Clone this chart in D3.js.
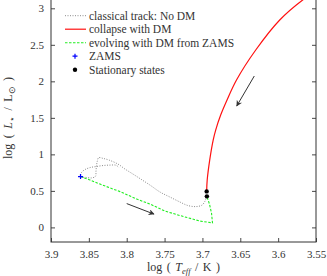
<!DOCTYPE html>
<html>
<head>
<meta charset="utf-8">
<script src="https://cdn.jsdelivr.net/npm/d3@7"></script>
<style>
  body { margin: 0; background: #fff; }
  svg text { font-family: "Liberation Serif", serif; fill: #333; }
</style>
</head>
<body>
<div id="chart"></div>
<script>
var svgWidth = 327;
var svgHeight = 276;

// data: [log Teff, log L]
var classicalTrack = [
  [3.6946, 0.429], [3.6966, 0.360], [3.7006, 0.305], [3.7085, 0.285], [3.7191, 0.299],
  [3.7296, 0.347], [3.7428, 0.415], [3.7560, 0.484], [3.7692, 0.579], [3.7824, 0.668],
  [3.7917, 0.730], [3.8023, 0.799], [3.8115, 0.867], [3.8234, 0.922], [3.8313, 0.945],
  [3.8370, 0.955], [3.8390, 0.900], [3.8400, 0.840], [3.8406, 0.764], [3.8412, 0.700],
  [3.8458, 0.678], [3.8538, 0.684], [3.8610, 0.696],
  [3.8597, 0.751], [3.8551, 0.792], [3.8485, 0.819], [3.8406, 0.833], [3.8313, 0.847],
  [3.8221, 0.853], [3.8141, 0.851], [3.8102, 0.819]
];
var collapseDM = [
  [3.6944, 0.498], [3.6937, 0.648], [3.6904, 0.922], [3.6858, 1.196], [3.6825, 1.333],
  [3.6759, 1.538], [3.6675, 1.744], [3.6550, 2.018], [3.6296, 2.429], [3.5979, 2.840],
  [3.5676, 3.114], [3.5557, 3.196]
];
var evolvingDM = [
  [3.8610, 0.696], [3.8485, 0.648], [3.8353, 0.593], [3.8221, 0.541], [3.8089, 0.490],
  [3.7868, 0.388], [3.7692, 0.319], [3.7494, 0.223], [3.7296, 0.162], [3.7032, 0.086],
  [3.6867, 0.062], [3.6880, 0.196], [3.6907, 0.319], [3.6941, 0.425]
];
var zams = [[3.861, 0.696]];
var stationary = [[3.6944, 0.493], [3.6941, 0.425]];
var arrows = [
  [[3.6315, 2.073], [3.6547, 1.662]],
  [[3.8000, 0.326], [3.7640, 0.182]]
];

var xTicks = [3.9, 3.85, 3.8, 3.75, 3.7, 3.65, 3.6, 3.55];
var yTicks = [0, 0.5, 1, 1.5, 2, 2.5, 3];

var legendLabels = [
  "classical track: No DM",
  "collapse with DM",
  "evolving with DM from ZAMS",
  "ZAMS",
  "Stationary states"
];

var plotLeft = 51, plotRight = 316, plotBottom = 242, plotTop = -6.3;

var x = d3.scaleLinear().domain([3.9, 3.55]).range([plotLeft, plotRight]);
var y = d3.scaleLinear().domain([-0.2, 3.2]).range([plotBottom, plotTop]);

var svg = d3.select("#chart").append("svg")
  .attr("width", svgWidth)
  .attr("height", svgHeight);

var defs = svg.append("defs");
defs.append("clipPath").attr("id", "clip")
  .append("rect")
  .attr("x", plotLeft).attr("y", plotTop)
  .attr("width", plotRight - plotLeft).attr("height", plotBottom - plotTop);

defs.append("marker")
  .attr("id", "head")
  .attr("viewBox", "0 0 10 10")
  .attr("refX", 9).attr("refY", 5)
  .attr("markerWidth", 10).attr("markerHeight", 6)
  .attr("markerUnits", "userSpaceOnUse")
  .attr("orient", "auto")
  .append("path")
  .attr("d", "M0,0 L10,5 L0,10 L3,5 Z")
  .attr("fill", "#333");

// axes
var bottomAxis = d3.axisBottom(x).tickValues(xTicks).tickSizeInner(-4).tickSizeOuter(0).tickPadding(8)
  .tickFormat(d3.format("~g"));
var leftAxis = d3.axisLeft(y).tickValues(yTicks).tickSizeInner(-4).tickSizeOuter(0).tickPadding(7)
  .tickFormat(d3.format("~g"));
var rightAxis = d3.axisRight(y).tickValues(yTicks).tickSizeInner(-4).tickSizeOuter(0).tickFormat("");

var axes = [
  svg.append("g").attr("transform", `translate(0,${plotBottom})`).call(bottomAxis),
  svg.append("g").attr("transform", `translate(${plotLeft},0)`).call(leftAxis),
  svg.append("g").attr("transform", `translate(${plotRight},0)`).call(rightAxis)
];
axes.forEach(function(g) {
  g.attr("font-family", null).attr("font-size", null);
});

svg.selectAll(".domain").remove();
svg.selectAll(".tick line").attr("stroke", "#333").attr("stroke-width", 0.9);
svg.selectAll(".tick text").style("font-size", "11px").attr("fill", "#333");

svg.append("rect")
  .attr("x", plotLeft).attr("y", plotTop)
  .attr("width", plotRight - plotLeft).attr("height", plotBottom - plotTop)
  .attr("fill", "none").attr("stroke", "#333").attr("stroke-width", 1);

var line = d3.line().x(d => x(d[0])).y(d => y(d[1])).curve(d3.curveCatmullRom.alpha(0.5));

var plot = svg.append("g").attr("clip-path", "url(#clip)");

plot.append("path").datum(classicalTrack)
  .attr("d", line).attr("fill", "none")
  .attr("stroke", "#8a8a8a").attr("stroke-width", 1).attr("stroke-dasharray", "1,1.5");

plot.append("path").datum(evolvingDM)
  .attr("d", d3.line().x(d => x(d[0])).y(d => y(d[1])))
  .attr("fill", "none")
  .attr("stroke", "#22ee22").attr("stroke-width", 1.1).attr("stroke-dasharray", "2.5,1.5");

plot.append("path").datum(collapseDM)
  .attr("d", line)
  .attr("fill", "none")
  .attr("stroke", "#ff1111").attr("stroke-width", 1.2);

plot.selectAll(".stat").data(stationary).enter().append("circle")
  .attr("cx", d => x(d[0])).attr("cy", d => y(d[1]))
  .attr("r", 2.2).attr("fill", "#000");

plot.selectAll(".zams").data(zams).enter().append("path")
  .attr("d", d => `M${x(d[0]) - 2.5},${y(d[1])}h5M${x(d[0])},${y(d[1]) - 2.5}v5`)
  .attr("stroke", "#0000ff").attr("stroke-width", 1.2);

plot.selectAll(".arrow").data(arrows).enter().append("line")
  .attr("x1", d => x(d[0][0])).attr("y1", d => y(d[0][1]))
  .attr("x2", d => x(d[1][0])).attr("y2", d => y(d[1][1]))
  .attr("stroke", "#333").attr("stroke-width", 1)
  .attr("marker-end", "url(#head)");

// legend
var legend = svg.append("g");
var rowY = d3.range(legendLabels.length).map(i => 15.7 + i * 13.5);
legendLabels.forEach(function(label, i) {
  var yy = rowY[i];
  if (i === 0) {
    legend.append("line").attr("x1", 65).attr("x2", 86).attr("y1", yy).attr("y2", yy)
      .attr("stroke", "#8a8a8a").attr("stroke-dasharray", "1,1.5");
  } else if (i === 1) {
    legend.append("line").attr("x1", 65).attr("x2", 86).attr("y1", yy).attr("y2", yy)
      .attr("stroke", "#ff1111").attr("stroke-width", 1.2);
  } else if (i === 2) {
    legend.append("line").attr("x1", 65).attr("x2", 86).attr("y1", yy).attr("y2", yy)
      .attr("stroke", "#22ee22").attr("stroke-width", 1.1).attr("stroke-dasharray", "2.5,1.5");
  } else if (i === 3) {
    legend.append("path").attr("d", `M72.5,${yy}h5M75,${yy - 2.5}v5`)
      .attr("stroke", "#0000ff").attr("stroke-width", 1.2);
  } else {
    legend.append("circle").attr("cx", 75).attr("cy", yy).attr("r", 2.2).attr("fill", "#000");
  }
  legend.append("text").attr("x", 89).attr("y", yy + 3.8)
    .style("font-size", "11.5px").text(label);
});

// axis titles
var xt = svg.append("text").attr("x", 183.5).attr("y", 271)
  .attr("text-anchor", "middle").style("font-size", "12px").style("word-spacing", "1.5px");
xt.append("tspan").text("log ( ");
xt.append("tspan").style("font-style", "italic").text("T");
xt.append("tspan").attr("dy", 2.5).style("font-size", "8.5px").style("font-style", "italic").text("eff");
xt.append("tspan").attr("dy", -2.5).text(" / K )");

var yt = svg.append("text").attr("transform", "translate(12,118) rotate(-90)")
  .attr("text-anchor", "middle").style("font-size", "12px").style("word-spacing", "2.5px");
yt.append("tspan").text("log ( ");
yt.append("tspan").style("font-style", "italic").text("L");
yt.append("tspan").attr("dy", 2.5).style("font-size", "8.5px").text("⋆");
yt.append("tspan").attr("dy", -2.5).text(" / L");
yt.append("tspan").attr("dy", 2.5).style("font-size", "8.5px").text("⊙");
yt.append("tspan").attr("dy", -2.5).text(" )");
</script>
</body>
</html>
